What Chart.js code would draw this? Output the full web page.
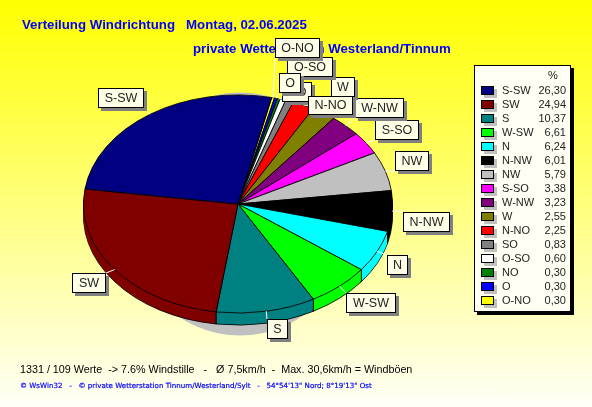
<!DOCTYPE html>
<html>
<head>
<meta charset="utf-8">
<title>Verteilung Windrichtung</title>
<script src="https://cdn.jsdelivr.net/npm/chart.js@4/dist/chart.umd.min.js"></script>
<style>
  html, body { margin: 0; padding: 0; }
  body {
    position: relative; width: 592px; height: 407px; overflow: hidden;
    background: linear-gradient(#ffff00, #fffff8);
    font-family: "Liberation Sans", Arial, sans-serif; color: #000;
  }
  canvas { position: absolute; left: 0; top: 0; }
  .txt { position: absolute; white-space: pre; }
  .title { color: #0000ff; font-weight: bold; font-size: 13.25px; line-height: 16px; }
  .note { font-size: 10.75px; line-height: 14px; left: 20px; top: 362px; }
  .foot { color: #0000ff; font-family: "DejaVu Sans", sans-serif; font-size: 7.1px; -webkit-text-stroke: 0.2px #0000ff; line-height: 10px; left: 20px; top: 381px; }
  .tag {
    position: absolute; box-sizing: border-box; background: #ffffe8;
    border: 1px solid #000; box-shadow: 3px 3px 0 #808080;
    font-size: 12.5px; text-align: center; color: #222;
  }
  #legend {
    position: absolute; left: 474px; top: 65px; width: 97px; height: 247px; box-sizing: border-box;
    background: #fffff4; border: 1px solid #000; box-shadow: 3px 3px 0 #000; font-size: 11px; color: #222;
  }
  #legend .pct { position: absolute; left: 73px; top: 3px; }
  #legend .row { position: absolute; left: 0; width: 95px; height: 14px; line-height: 14px; }
  #legend .sw { position: absolute; left: 6px; top: 3px; height: 7px; width: 11px; border: 1px solid #000; box-shadow: 3px 3px 0 #c0c0c0; }
  #legend .nm { position: absolute; left: 27px; top: 0; }
  #legend .val { position: absolute; right: 4px; top: 0; }
</style>
</head>
<body>
<canvas id="pie" width="592" height="407"></canvas>
<div class="txt title" style="left:22px;top:17px">Verteilung Windrichtung   Montag, 02.06.2025</div>
<div class="txt title" style="left:193px;top:41px">private Wetterstation Westerland/Tinnum</div>
<div class="txt note">1331 / 109 Werte  -&gt; 7.6% Windstille   -   Ø 7,5km/h  -  Max. 30,6km/h = Windböen</div>
<div class="txt foot">© WsWin32   -   © private Wetterstation Tinnum/Westerland/Sylt   -   54°54'13" Nord; 8°19'13" Ost</div>
<div id="legend"><div class="pct">%</div></div>
<div id="tags"></div>
<script>
// values as listed in the legend box
const directions = ['S-SW', 'SW', 'S', 'W-SW', 'N', 'N-NW', 'NW', 'S-SO', 'W-NW', 'W', 'N-NO', 'SO', 'O-SO', 'NO', 'O', 'O-NO'];
const percents   = [26.30, 24.94, 10.37, 6.61, 6.24, 6.01, 5.79, 3.38, 3.23, 2.55, 2.25, 0.83, 0.60, 0.30, 0.30, 0.30];
const colors     = ['#000080', '#800000', '#008080', '#00ff00', '#00ffff', '#000000', '#c0c0c0', '#ff00ff', '#800080', '#808000', '#ff0000', '#808080', '#ffffff', '#008000', '#0000ff', '#ffff00'];

// callout boxes: [name, left, top, width, height], drawn in this order
const tagBoxes = [
  ['S-SW', 98, 88, 46, 20], ['SW', 72, 273, 34, 20], ['S', 267, 319, 21, 20],
  ['W-SW', 346, 293, 50, 20], ['N', 387, 255, 21, 20], ['N-NW', 403, 212, 47, 20],
  ['NW', 395, 151, 34, 20], ['S-SO', 375, 120, 44, 20], ['W-NW', 355, 98, 49, 20],
  ['W', 331, 77, 24, 20], ['SO', 282, 82, 30, 20], ['NO', 282, 82, 30, 20], ['N-NO', 308, 96, 45, 19],
  ['O-SO', 287, 57, 46, 20], ['O', 279, 73, 22, 20], ['O-NO', 275, 38, 45, 20],
];

const SQUASH = 0.706;   // pie is tilted, ellipse height / width
const DEPTH = 12;

const legendBox = document.getElementById('legend');
directions.forEach((name, i) => {
  const row = document.createElement('div');
  row.className = 'row';
  row.style.top = (17 + i * 14) + 'px';
  row.innerHTML = `<span class="sw" style="background:${colors[i]}"></span><span class="nm">${name}</span><span class="val">${percents[i].toFixed(2).replace('.', ',')}</span>`;
  legendBox.appendChild(row);
});

const tagsEl = document.getElementById('tags');
tagBoxes.forEach(([name, x, y, w, h]) => {
  const d = document.createElement('div');
  d.className = 'tag';
  d.textContent = name;
  d.style.cssText = `left:${x}px;top:${y}px;width:${w}px;height:${h}px;line-height:${h - 2}px`;
  tagsEl.appendChild(d);
});

// ── tilted pie: side walls, shadow and leader lines around the library's arcs ──
const tiltPlugin = {
  id: 'tilt',
  beforeDatasetsDraw(chart) {
    const ctx = chart.ctx;
    const arcs = chart.getDatasetMeta(0).data;
    const cx = arcs[0].x, cy = arcs[0].y, r = arcs[0].outerRadius;

    ctx.save();
    ctx.fillStyle = '#c0c0c0';
    ctx.beginPath();
    ctx.ellipse(cx + 2, cy + 10, 115, 121.5, 0, 0, Math.PI * 2);
    ctx.fill();
    ctx.restore();

    // extrude: stack copies of the arcs downwards, the lowest one keeps the outline
    for (let dy = DEPTH; dy >= 1; dy--) {
      ctx.save();
      ctx.translate(cx, cy + dy);
      ctx.scale(1, SQUASH);
      ctx.translate(-cx, -cy);
      arcs.forEach(a => {
        const opts = a.options, bw = opts.borderWidth;
        if (dy !== DEPTH) opts.borderWidth = 0;
        a.draw(ctx);
        opts.borderWidth = bw;
      });
      ctx.restore();
    }

    // vertical wall edges on the front half
    ctx.save();
    ctx.strokeStyle = '#000';
    ctx.lineWidth = 1;
    arcs.forEach(a => {
      const x = cx + Math.cos(a.startAngle) * r, y = cy + Math.sin(a.startAngle) * r * SQUASH;
      if (Math.sin(a.startAngle) > 0) {
        ctx.beginPath();
        ctx.moveTo(x, y);
        ctx.lineTo(x, y + DEPTH);
        ctx.stroke();
      }
    });
    ctx.restore();

    ctx.save();
    ctx.translate(cx, cy);
    ctx.scale(1, SQUASH);
    ctx.translate(-cx, -cy);
  },
  afterDatasetsDraw(chart) {
    const ctx = chart.ctx;
    ctx.restore();
    const labels = chart.data.labels;
    const arcs = chart.getDatasetMeta(0).data;
    ctx.save();
    ctx.strokeStyle = '#ffffff';
    ctx.lineWidth = 1;
    tagBoxes.forEach(([name, x, y, w, h]) => {
      const a = arcs[labels.indexOf(name)];
      const mid = (a.startAngle + a.endAngle) / 2;
      const px = a.x + Math.cos(mid) * a.outerRadius;
      const py = a.y + Math.sin(mid) * a.outerRadius * SQUASH;
      ctx.beginPath();
      ctx.moveTo(px, py);
      ctx.lineTo(Math.min(Math.max(px, x), x + w), Math.min(Math.max(py, y), y + h));
      ctx.stroke();
    });
    ctx.restore();
  },
};

// the slices run clockwise from O-NO, so the legend order is reversed for the chart
new Chart(document.getElementById('pie'), {
  type: 'pie',
  data: {
    labels: [...directions].reverse(),
    datasets: [{
      data: [...percents].reverse(),
      backgroundColor: [...colors].reverse(),
      borderColor: '#000000',
      borderWidth: 1,
      borderAlign: 'center',
    }],
  },
  options: {
    responsive: false,
    animation: false,
    rotation: 12.6,
    layout: { padding: { left: 83, right: 199, top: 49, bottom: 48 } },
    plugins: { legend: { display: false }, tooltip: { enabled: false }, title: { display: false } },
  },
  plugins: [tiltPlugin],
});
</script>
</body>
</html>
